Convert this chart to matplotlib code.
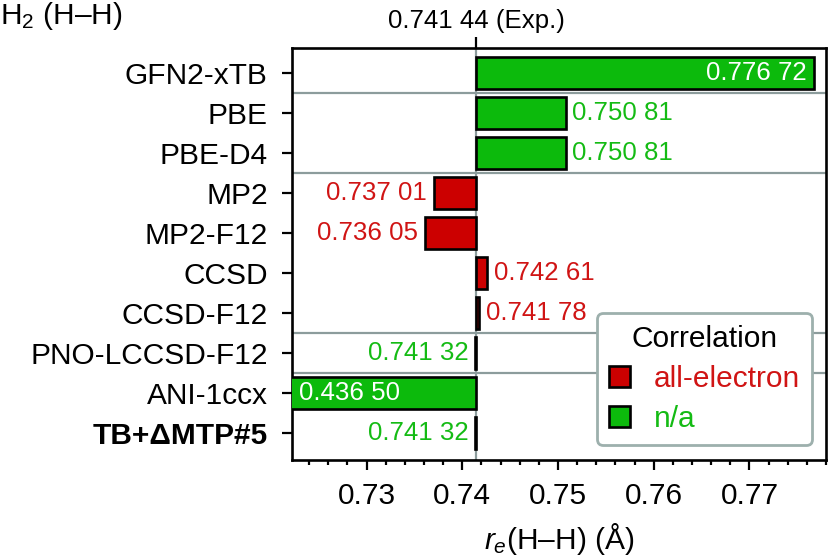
import numpy as np
import matplotlib.pyplot as plt
from matplotlib.patches import Patch

plt.rcParams['font.family'] = ['Liberation Sans', 'DejaVu Sans']
plt.rcParams['mathtext.fontset'] = 'custom'
plt.rcParams['mathtext.rm'] = 'Liberation Sans'
plt.rcParams['mathtext.it'] = 'Liberation Sans:italic'

# data
methods = ['GFN2-xTB', 'PBE', 'PBE-D4', 'MP2', 'MP2-F12', 'CCSD', 'CCSD-F12',
           'PNO-LCCSD-F12', 'ANI-1ccx', 'TB+ΔMTP#5']
values = [0.77672, 0.75081, 0.75081, 0.73701, 0.73605, 0.74261, 0.74178,
          0.74132, 0.43650, 0.74132]
correlation = ['n/a', 'n/a', 'n/a', 'all-electron', 'all-electron', 'all-electron',
               'all-electron', 'n/a', 'n/a', 'n/a']
label_inside = [True, False, False, False, False, False, False, False, True, False]
group_breaks = [0.5, 2.5, 6.5, 7.5]
r_exp = 0.74144

fill = {'all-electron': '#cc0000', 'n/a': '#0cba0c'}
txt = {'all-electron': '#d01414', 'n/a': '#14bb14'}
grey = '#8c9c9c'
fs = 21.5      # axis labels
fs_val = 18.6  # value labels

def fmt(v):
    s = '%.5f' % v
    return s[:5] + ' ' + s[5:]

fig = plt.figure(figsize=(8.29, 5.6), dpi=100)
ax = fig.add_axes([0.3522, 0.1786, 0.6442, 0.7357])

xmin, xmax = 0.7222, 0.7780
y = np.arange(len(methods))

for yb in group_breaks:
    ax.axhline(yb, color=grey, lw=1.6, zorder=1)
ax.axvline(r_exp, color=grey, lw=1.6, zorder=1)

for i, (v, c) in enumerate(zip(values, correlation)):
    ax.barh(y[i], v - r_exp, left=r_exp, height=0.8, color=fill[c],
            edgecolor='black', linewidth=1.9, zorder=3)
    end = max(v, xmin)
    if label_inside[i]:
        if v > r_exp:
            ax.text(v - 0.0007, y[i], fmt(v), color='white', fontsize=fs_val,
                    ha='right', va='center', zorder=4)
        else:
            ax.text(end + 0.0007, y[i], fmt(v), color='white', fontsize=fs_val,
                    ha='left', va='center', zorder=4)
    elif v > r_exp:
        ax.text(v + 0.0007, y[i], fmt(v), color=txt[c], fontsize=fs_val,
                ha='left', va='center', zorder=4)
    else:
        ax.text(v - 0.0007, y[i], fmt(v), color=txt[c], fontsize=fs_val,
                ha='right', va='center', zorder=4)

ax.set_xlim(xmin, xmax)
ax.set_ylim(len(methods) - 1 + 0.67, -0.63)
ax.set_yticks(y)
ax.set_yticklabels(methods, fontsize=fs)
ax.get_yticklabels()[-1].set_fontweight('bold')
ax.set_xticks([0.73, 0.74, 0.75, 0.76, 0.77])
ax.set_xticklabels(['0.73', '0.74', '0.75', '0.76', '0.77'], fontsize=fs)
ax.set_xticks(np.arange(0.724, 0.778, 0.002), minor=True)
ax.tick_params(axis='x', which='major', direction='out', length=7.5, width=1.6, pad=8)
ax.tick_params(axis='y', which='major', direction='out', length=7.5, width=1.6, pad=10)
ax.tick_params(axis='x', which='minor', direction='out', length=3.5, width=1.6)
ax.tick_params(axis='y', which='minor', left=False)
for s in ax.spines.values():
    s.set_linewidth(1.9)
ax.set_xlabel('$r_e$(H–H) (Å)', fontsize=fs, labelpad=8)

top = ax.twiny()
top.set_xlim(ax.get_xlim())
top.set_xticks([r_exp])
top.set_xticklabels([fmt(r_exp) + ' (Exp.)'], fontsize=fs_val)
top.tick_params(axis='x', direction='out', length=8, width=1.6, pad=3)
for s in top.spines.values():
    s.set_visible(False)

fig.text(0.0, 0.972, 'H$_2$ (H–H)', fontsize=fs, ha='left', va='center')

handles = [Patch(facecolor=fill[k], edgecolor='black', linewidth=1.9) for k in ['all-electron', 'n/a']]
leg = ax.legend(handles, ['all-electron', 'n/a'], title='Correlation', loc='lower right',
                bbox_to_anchor=(0.974, 0.036), borderaxespad=0, fontsize=fs, title_fontsize=fs,
                frameon=True, fancybox=True, framealpha=1, edgecolor='#9db0ad',
                handlelength=0.72, handleheight=0.72, handletextpad=0.8,
                borderpad=0.4, labelspacing=0.4)
leg.get_frame().set_linewidth(2)
leg.set_zorder(5)
for t, k in zip(leg.get_texts(), ['all-electron', 'n/a']):
    t.set_color(txt[k])

fig.savefig('out.png', dpi=100)
